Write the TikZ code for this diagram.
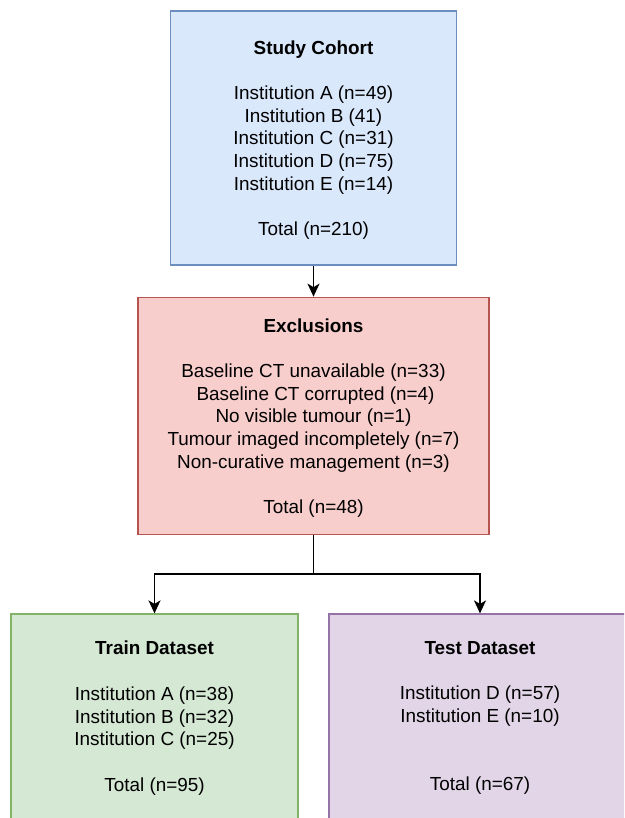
\documentclass[tikz,border=0pt]{standalone}
\usepackage{fontspec}
\setmainfont{Liberation Sans}
\usetikzlibrary{arrows.meta}
\definecolor{blueF}{HTML}{DAE8FC}\definecolor{blueD}{HTML}{6C8EBF}
\definecolor{redF}{HTML}{F8CECC}\definecolor{redD}{HTML}{B85450}
\definecolor{greenF}{HTML}{D5E8D4}\definecolor{greenD}{HTML}{82B366}
\definecolor{purpF}{HTML}{E1D5E7}\definecolor{purpD}{HTML}{9673A6}
\tikzset{
  boxshape/.style={draw, rectangle, line width=1.2pt, inner sep=0pt},
  boxtext/.style={align=center, inner sep=0pt, font=\fontsize{18.9}{22.7}\selectfont},
  conn/.style={line width=1.5pt, -{Stealth[length=13pt,width=12pt,inset=3.5pt]}},
  connplain/.style={line width=1.5pt}
}
\begin{document}
\begin{tikzpicture}[x=1pt,y=-1pt]
\useasboundingbox (0,0) rectangle (624,818);
\begin{scope}
\clip (0,0) rectangle (624,818);
% boxes
\node[boxshape, fill=blueF, draw=blueD, minimum width=285.5pt, minimum height=254pt] (cohort) at (313.5,138) {};
\node[boxshape, fill=redF, draw=redD, minimum width=351pt, minimum height=237.5pt] (excl) at (313.5,416) {};
\node[boxshape, fill=greenF, draw=greenD, minimum width=287pt, minimum height=254pt] (train) at (154.5,741) {};
\node[boxshape, fill=purpF, draw=purpD, minimum width=302pt, minimum height=254pt] (test) at (480,741) {};
\end{scope}
% texts
\node[boxtext] (cohortT) at (313.5,140) {\textbf{Study Cohort}\\~\\Institution A (n=49)\\Institution B (41)\\Institution C (n=31)\\Institution D (n=75)\\Institution E (n=14)\\~\\Total (n=210)};
\node[boxtext] (exclT) at (313.5,418) {\textbf{Exclusions}\\~\\Baseline CT unavailable (n=33)\\\hspace{4pt}Baseline CT corrupted (n=4)\\No visible tumour (n=1)\\Tumour imaged incompletely (n=7)\\Non-curative management (n=3)\\~\\Total (n=48)};
\node[boxtext, anchor=north] (trainT) at (154.5,641) {\textbf{Train Dataset}\\~\\Institution A (n=38)\\Institution B (n=32)\\Institution C (n=25)\\~\\Total (n=95)};
\node[boxtext, anchor=north] (testT) at (480,641) {\textbf{Test Dataset}\\~\\Institution D (n=57)\\Institution E (n=10)\\~\\~\\Total (n=67)};
% connectors
\coordinate (split) at (313.5,574);
\draw[conn] (cohort.south) -- (excl.north);
\draw[connplain] (excl.south) -- (split);
\draw[conn] (split) -| (train.north);
\draw[conn] (split) -| (test.north);
\end{tikzpicture}
\end{document}
